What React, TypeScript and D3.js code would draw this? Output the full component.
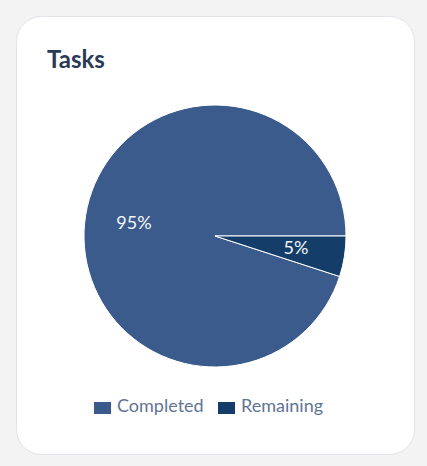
import React, { useEffect, useRef } from 'react';
import * as d3 from 'd3';

const categories = ['Completed', 'Remaining'];
const values = [95, 5];
const colors = ['#3b5b8d', '#153d69'];

const W = 427;
const H = 466;

const App = () => {
  const svgRef = useRef<SVGSVGElement>(null);

  useEffect(() => {
    const svg = d3.select(svgRef.current);
    svg.selectAll('*').remove();
    svg.attr('width', W).attr('height', H);

    svg.append('rect').attr('width', W).attr('height', H).attr('fill', '#f3f3f3');
    svg.append('rect')
      .attr('x', 16.5).attr('y', 16.5)
      .attr('width', 398).attr('height', 438)
      .attr('rx', 25)
      .attr('fill', '#fff')
      .attr('stroke', '#e1e3e8');

    svg.append('text')
      .attr('x', 47).attr('y', 68)
      .attr('font-family', 'Lato, sans-serif')
      .attr('font-weight', 700)
      .attr('font-size', 24)
      .attr('fill', '#2a3a55')
      .text('Tasks');

    const radius = 131;
    const cx = 215;
    const cy = 236;

    const pie = d3.pie<number>()
      .value(d => d)
      .sort(null)
      .startAngle(2.5 * Math.PI)
      .endAngle(0.5 * Math.PI);

    const arcs = pie(values);
    const arc = d3.arc<d3.PieArcDatum<number>>().innerRadius(0).outerRadius(radius);
    const labelArc = d3.arc<d3.PieArcDatum<number>>().innerRadius(82).outerRadius(82);

    const g = svg.append('g').attr('transform', `translate(${cx},${cy})`);

    g.selectAll('path')
      .data(arcs)
      .enter()
      .append('path')
      .attr('d', arc)
      .attr('fill', (d, i) => colors[i])
      .attr('stroke', '#fff')
      .attr('stroke-width', 1);

    g.selectAll('text')
      .data(arcs)
      .enter()
      .append('text')
      .attr('transform', d => `translate(${labelArc.centroid(d)})`)
      .attr('text-anchor', 'middle')
      .attr('dy', '0.3em')
      .attr('font-family', 'Lato, sans-serif')
      .attr('font-size', 18)
      .attr('fill', '#f4f6fa')
      .text(d => `${d.data}%`);

    // legend
    const legendX = [94, 218];
    const legend = svg.append('g');
    categories.forEach((c, i) => {
      legend.append('rect')
        .attr('x', legendX[i]).attr('y', 402)
        .attr('width', 17).attr('height', 12)
        .attr('fill', colors[i]);
      legend.append('text')
        .attr('x', legendX[i] + 23).attr('y', 412)
        .attr('font-family', 'Lato, sans-serif')
        .attr('font-size', 18)
        .attr('fill', '#5f7494')
        .text(c);
    });
  }, []);

  return <svg ref={svgRef} style={{ position: 'absolute', left: 0, top: 0 }}></svg>;
};

export default App;
